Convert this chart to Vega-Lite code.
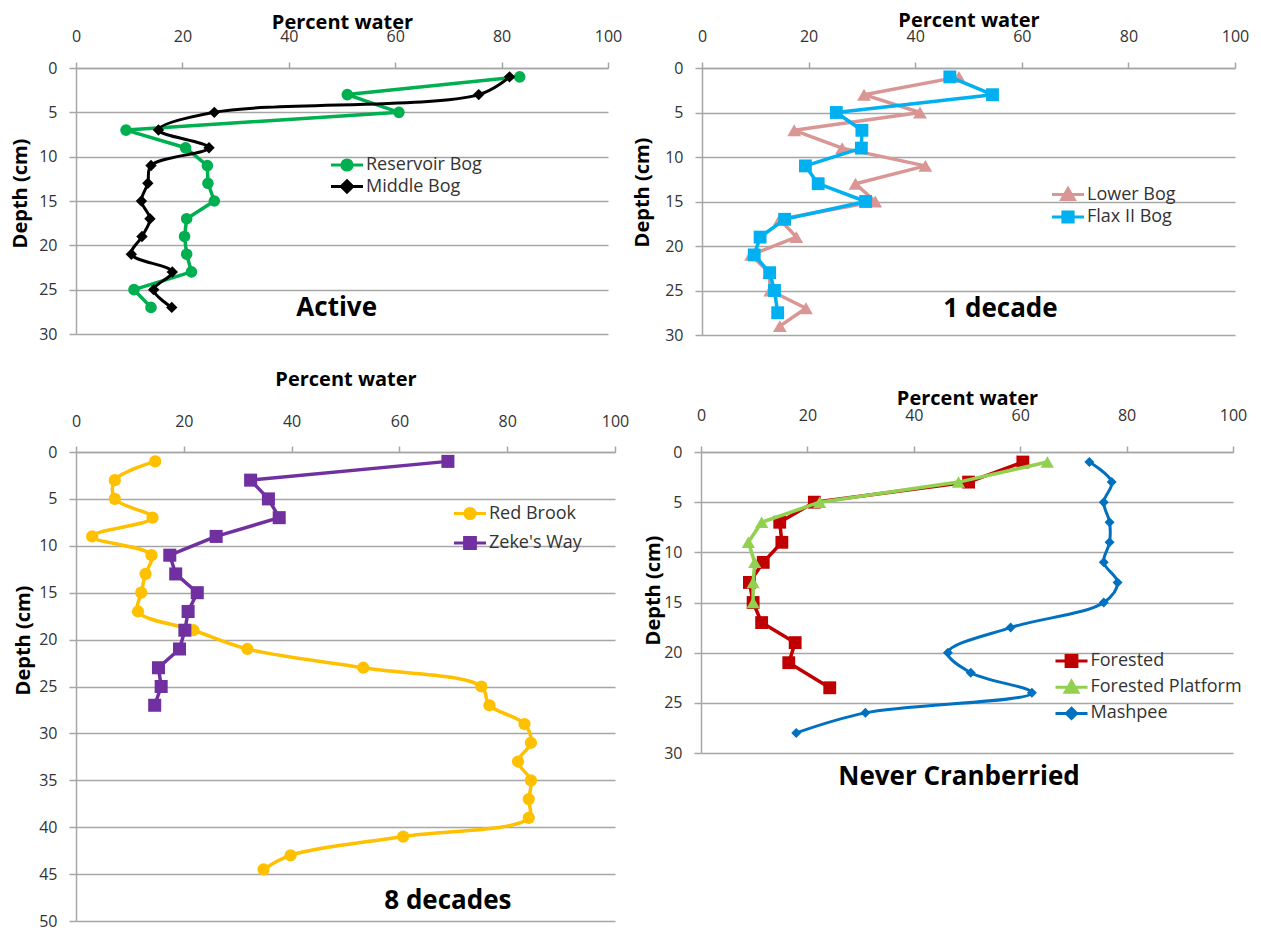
{
  "$schema": "https://vega.github.io/schema/vega-lite/v6.json",
  "background": "white",
  "padding": {"left": 10, "top": 10, "right": 10, "bottom": 10},
  "spacing": 26,
  "resolve": {"scale": {"color": "independent", "x": "independent", "y": "independent"}, "legend": {"color": "independent"}},
  "config": {
    "font": "Open Sans",
    "view": {"stroke": null},
    "axis": {
      "domainColor": "#A6A6A6", "domainWidth": 1.5,
      "tickColor": "#A6A6A6", "tickWidth": 1.5,
      "gridColor": "#A6A6A6", "gridWidth": 1.5, "gridOpacity": 1,
      "labelFont": "Open Sans", "labelFontSize": 16, "labelColor": "#333333",
      "titleFont": "Open Sans", "titleFontSize": 20, "titleFontWeight": "bold", "titleColor": "#000000",
      "labelOverlap": false, "labelFlush": false
    },
    "axisX": {"grid": false, "tickSize": 6, "titleBaseline": "middle"},
    "axisY": {"grid": true, "tickSize": 7, "labelPadding": 12, "titleBaseline": "middle", "titleAlign": "center", "titleAngle": -90},
    "legend": {
      "orient": "none", "padding": 0,
      "labelFont": "Open Sans", "labelFontSize": 18, "labelColor": "#333333",
      "symbolSize": 144, "symbolOffset": 10, "labelOffset": 10, "symbolStrokeWidth": 3
    },
    "text": {"font": "Open Sans"}
  },
  "datasets": {
    "active": [
      {"site": "Reservoir Bog", "depth": 1, "pct": 83.4},
      {"site": "Reservoir Bog", "depth": 3, "pct": 51.0},
      {"site": "Reservoir Bog", "depth": 5, "pct": 60.7},
      {"site": "Reservoir Bog", "depth": 7, "pct": 9.4},
      {"site": "Reservoir Bog", "depth": 9, "pct": 20.6},
      {"site": "Reservoir Bog", "depth": 11, "pct": 24.7},
      {"site": "Reservoir Bog", "depth": 13, "pct": 24.8},
      {"site": "Reservoir Bog", "depth": 15, "pct": 26.0},
      {"site": "Reservoir Bog", "depth": 17, "pct": 20.8},
      {"site": "Reservoir Bog", "depth": 19, "pct": 20.4},
      {"site": "Reservoir Bog", "depth": 21, "pct": 20.8},
      {"site": "Reservoir Bog", "depth": 23, "pct": 21.7},
      {"site": "Reservoir Bog", "depth": 25, "pct": 10.9},
      {"site": "Reservoir Bog", "depth": 27, "pct": 14.1},
      {"site": "Middle Bog", "depth": 1, "pct": 81.5},
      {"site": "Middle Bog", "depth": 3, "pct": 75.7},
      {"site": "Middle Bog", "depth": 5, "pct": 26.0},
      {"site": "Middle Bog", "depth": 7, "pct": 15.5},
      {"site": "Middle Bog", "depth": 9, "pct": 25.0},
      {"site": "Middle Bog", "depth": 11, "pct": 14.1},
      {"site": "Middle Bog", "depth": 13, "pct": 13.5},
      {"site": "Middle Bog", "depth": 15, "pct": 12.3},
      {"site": "Middle Bog", "depth": 17, "pct": 13.9},
      {"site": "Middle Bog", "depth": 19, "pct": 12.4},
      {"site": "Middle Bog", "depth": 21, "pct": 10.4},
      {"site": "Middle Bog", "depth": 23, "pct": 18.1},
      {"site": "Middle Bog", "depth": 25, "pct": 14.6},
      {"site": "Middle Bog", "depth": 27, "pct": 18.0}
    ],
    "decade1": [
      {"site": "Lower Bog", "depth": 1, "pct": 48.2},
      {"site": "Lower Bog", "depth": 3, "pct": 30.4},
      {"site": "Lower Bog", "depth": 5, "pct": 40.9},
      {"site": "Lower Bog", "depth": 7, "pct": 17.3},
      {"site": "Lower Bog", "depth": 9, "pct": 26.3},
      {"site": "Lower Bog", "depth": 11, "pct": 41.9},
      {"site": "Lower Bog", "depth": 13, "pct": 28.8},
      {"site": "Lower Bog", "depth": 15, "pct": 32.5},
      {"site": "Lower Bog", "depth": 17, "pct": 14.6},
      {"site": "Lower Bog", "depth": 19, "pct": 17.7},
      {"site": "Lower Bog", "depth": 21, "pct": 9.2},
      {"site": "Lower Bog", "depth": 23, "pct": 12.6},
      {"site": "Lower Bog", "depth": 25, "pct": 12.8},
      {"site": "Lower Bog", "depth": 27, "pct": 19.5},
      {"site": "Lower Bog", "depth": 29, "pct": 14.6},
      {"site": "Flax II Bog", "depth": 1, "pct": 46.5},
      {"site": "Flax II Bog", "depth": 3, "pct": 54.5},
      {"site": "Flax II Bog", "depth": 5, "pct": 25.2},
      {"site": "Flax II Bog", "depth": 7, "pct": 30.0},
      {"site": "Flax II Bog", "depth": 9, "pct": 29.9},
      {"site": "Flax II Bog", "depth": 11, "pct": 19.4},
      {"site": "Flax II Bog", "depth": 13, "pct": 21.8},
      {"site": "Flax II Bog", "depth": 15, "pct": 30.7},
      {"site": "Flax II Bog", "depth": 17, "pct": 15.5},
      {"site": "Flax II Bog", "depth": 19, "pct": 10.9},
      {"site": "Flax II Bog", "depth": 21, "pct": 9.8},
      {"site": "Flax II Bog", "depth": 23, "pct": 12.7},
      {"site": "Flax II Bog", "depth": 25, "pct": 13.6},
      {"site": "Flax II Bog", "depth": 27.5, "pct": 14.2}
    ],
    "decade8": [
      {"site": "Red Brook", "depth": 1, "pct": 14.7},
      {"site": "Red Brook", "depth": 3, "pct": 7.2},
      {"site": "Red Brook", "depth": 5, "pct": 7.2},
      {"site": "Red Brook", "depth": 7, "pct": 14.2},
      {"site": "Red Brook", "depth": 9, "pct": 3.0},
      {"site": "Red Brook", "depth": 11, "pct": 14.0},
      {"site": "Red Brook", "depth": 13, "pct": 12.9},
      {"site": "Red Brook", "depth": 15, "pct": 12.1},
      {"site": "Red Brook", "depth": 17, "pct": 11.5},
      {"site": "Red Brook", "depth": 19, "pct": 21.8},
      {"site": "Red Brook", "depth": 21, "pct": 31.8},
      {"site": "Red Brook", "depth": 23, "pct": 53.3},
      {"site": "Red Brook", "depth": 25, "pct": 75.2},
      {"site": "Red Brook", "depth": 27, "pct": 76.7},
      {"site": "Red Brook", "depth": 29, "pct": 83.2},
      {"site": "Red Brook", "depth": 31, "pct": 84.4},
      {"site": "Red Brook", "depth": 33, "pct": 82.0},
      {"site": "Red Brook", "depth": 35, "pct": 84.4},
      {"site": "Red Brook", "depth": 37, "pct": 84.0},
      {"site": "Red Brook", "depth": 39, "pct": 84.0},
      {"site": "Red Brook", "depth": 41, "pct": 60.7},
      {"site": "Red Brook", "depth": 43, "pct": 39.8},
      {"site": "Red Brook", "depth": 44.5, "pct": 34.8},
      {"site": "Zeke's Way", "depth": 1, "pct": 69.0},
      {"site": "Zeke's Way", "depth": 3, "pct": 32.4},
      {"site": "Zeke's Way", "depth": 5, "pct": 35.7},
      {"site": "Zeke's Way", "depth": 7, "pct": 37.7},
      {"site": "Zeke's Way", "depth": 9, "pct": 26.0},
      {"site": "Zeke's Way", "depth": 11, "pct": 17.4},
      {"site": "Zeke's Way", "depth": 13, "pct": 18.5},
      {"site": "Zeke's Way", "depth": 15, "pct": 22.5},
      {"site": "Zeke's Way", "depth": 17, "pct": 20.8},
      {"site": "Zeke's Way", "depth": 19, "pct": 20.2},
      {"site": "Zeke's Way", "depth": 21, "pct": 19.2},
      {"site": "Zeke's Way", "depth": 23, "pct": 15.3},
      {"site": "Zeke's Way", "depth": 25, "pct": 15.8},
      {"site": "Zeke's Way", "depth": 27, "pct": 14.6}
    ],
    "never": [
      {"site": "Forested", "depth": 1, "pct": 60.5},
      {"site": "Forested", "depth": 3, "pct": 50.3},
      {"site": "Forested", "depth": 5, "pct": 21.3},
      {"site": "Forested", "depth": 7, "pct": 14.8},
      {"site": "Forested", "depth": 9, "pct": 15.2},
      {"site": "Forested", "depth": 11, "pct": 11.7},
      {"site": "Forested", "depth": 13, "pct": 9.1},
      {"site": "Forested", "depth": 15, "pct": 9.8},
      {"site": "Forested", "depth": 17, "pct": 11.4},
      {"site": "Forested", "depth": 19, "pct": 17.7},
      {"site": "Forested", "depth": 21, "pct": 16.5},
      {"site": "Forested", "depth": 23.5, "pct": 24.2},
      {"site": "Forested Platform", "depth": 1, "pct": 65.1},
      {"site": "Forested Platform", "depth": 3, "pct": 48.4},
      {"site": "Forested Platform", "depth": 5, "pct": 22.3},
      {"site": "Forested Platform", "depth": 7, "pct": 11.4},
      {"site": "Forested Platform", "depth": 9, "pct": 8.9},
      {"site": "Forested Platform", "depth": 11, "pct": 10.1},
      {"site": "Forested Platform", "depth": 13, "pct": 9.8},
      {"site": "Forested Platform", "depth": 15, "pct": 9.8},
      {"site": "Mashpee", "depth": 1, "pct": 73.0},
      {"site": "Mashpee", "depth": 3, "pct": 77.2},
      {"site": "Mashpee", "depth": 5, "pct": 75.7},
      {"site": "Mashpee", "depth": 7, "pct": 76.8},
      {"site": "Mashpee", "depth": 9, "pct": 76.8},
      {"site": "Mashpee", "depth": 11, "pct": 75.7},
      {"site": "Mashpee", "depth": 13, "pct": 78.3},
      {"site": "Mashpee", "depth": 15, "pct": 75.7},
      {"site": "Mashpee", "depth": 17.5, "pct": 58.2},
      {"site": "Mashpee", "depth": 20, "pct": 46.4},
      {"site": "Mashpee", "depth": 22, "pct": 50.7},
      {"site": "Mashpee", "depth": 24, "pct": 62.2},
      {"site": "Mashpee", "depth": 26, "pct": 30.9},
      {"site": "Mashpee", "depth": 28, "pct": 17.9}
    ],
    "notes": [
      {"panel": "active", "label": "Active", "pct": 49.0, "depth": 27.1},
      {"panel": "decade1", "label": "1 decade", "pct": 56.0, "depth": 27.1},
      {"panel": "decade8", "label": "8 decades", "pct": 69.0, "depth": 47.9},
      {"panel": "never", "label": "Never Cranberried", "pct": 48.5, "depth": 32.4}
    ]
  },
  "vconcat": [
    {
      "resolve": {"scale": {"color": "independent", "x": "independent", "y": "independent"}, "legend": {"color": "independent"}},
      "hconcat": [
        {
          "width": 532, "height": 266,
          "encoding": {
            "x": {"field": "pct", "type": "quantitative", "scale": {"domain": [0, 100], "nice": false},
              "axis": {"orient": "top", "title": "Percent water", "values": [0, 20, 40, 60, 80, 100], "labelPadding": 18, "titleY": -46}},
            "y": {"field": "depth", "type": "quantitative", "scale": {"domain": [0, 30], "reverse": true, "nice": false},
              "axis": {"title": "Depth (cm)", "values": [0, 5, 10, 15, 20, 25, 30], "titleX": -56, "titleY": 125}}
          },
          "layer": [
            {
              "data": {"name": "active"},
              "encoding": {
                "color": {"field": "site", "type": "nominal",
                  "scale": {"domain": ["Reservoir Bog", "Middle Bog"], "range": ["#00B050", "#000000"]},
                  "legend": {"title": null, "legendX": 252, "legendY": 88, "rowPadding": -2.5,
                    "encode": {"symbols": {"update": {
                      "shape": {"signal": "datum.value === 'Reservoir Bog' ? 'M-2.67,0H2.67M-0.85,0A0.85,0.85,0,1,0,0.85,0A0.85,0.85,0,1,0,-0.85,0Z' : 'M-2.67,0H2.67M0,-0.95L0.95,0L0,0.95L-0.95,0Z'"},
                      "fill": {"signal": "datum.value === 'Reservoir Bog' ? '#00B050' : '#000000'"},
                      "stroke": {"signal": "datum.value === 'Reservoir Bog' ? '#00B050' : '#000000'"},
                      "strokeWidth": {"value": 3}, "opacity": {"value": 1}}}}}},
                "order": {"field": "depth", "type": "quantitative"}
              },
              "layer": [
                {"transform": [{"filter": "datum.site === 'Reservoir Bog'"}],
                  "mark": {"type": "line", "strokeWidth": 3.5, "strokeJoin": "round",
                    "point": {"filled": true, "shape": "circle", "size": 135, "opacity": 1}}},
                {"transform": [{"filter": "datum.site === 'Middle Bog'"}],
                  "mark": {"type": "line", "strokeWidth": 3, "interpolate": "catmull-rom",
                    "point": {"filled": true, "shape": "diamond", "size": 130, "opacity": 1}}}
              ]
            },
            {
              "data": {"name": "notes"},
              "transform": [{"filter": "datum.panel === 'active'"}],
              "mark": {"type": "text", "fontSize": 26, "fontWeight": "bold", "align": "center", "baseline": "middle", "color": "#000000"},
              "encoding": {"text": {"field": "label"}}
            }
          ]
        },
        {
          "width": 533, "height": 267,
          "encoding": {
            "x": {"field": "pct", "type": "quantitative", "scale": {"domain": [0, 100], "nice": false},
              "axis": {"orient": "top", "title": "Percent water", "values": [0, 20, 40, 60, 80, 100], "labelPadding": 18, "titleY": -48}},
            "y": {"field": "depth", "type": "quantitative", "scale": {"domain": [0, 30], "reverse": true, "nice": false},
              "axis": {"title": "Depth (cm)", "values": [0, 5, 10, 15, 20, 25, 30], "titleX": -59.5, "titleY": 124}}
          },
          "layer": [
            {
              "data": {"name": "decade1"},
              "encoding": {
                "color": {"field": "site", "type": "nominal",
                  "scale": {"domain": ["Lower Bog", "Flax II Bog"], "range": ["#D99694", "#00B0F0"]},
                  "legend": {"title": null, "legendX": 347, "legendY": 117.5, "rowPadding": -1.5,
                    "encode": {"symbols": {"update": {
                      "shape": {"signal": "datum.value === 'Lower Bog' ? 'M-2.67,0H2.67M0,-1L1.05,0.85H-1.05Z' : 'M-2.67,0H2.67M-0.85,-0.85H0.85V0.85H-0.85Z'"},
                      "fill": {"signal": "datum.value === 'Lower Bog' ? '#D99694' : '#00B0F0'"},
                      "stroke": {"signal": "datum.value === 'Lower Bog' ? '#D99694' : '#00B0F0'"},
                      "strokeWidth": {"value": 3}, "opacity": {"value": 1}}}}}},
                "order": {"field": "depth", "type": "quantitative"}
              },
              "layer": [
                {"transform": [{"filter": "datum.site === 'Lower Bog'"}],
                  "mark": {"type": "line", "strokeWidth": 3.5, "strokeJoin": "round",
                    "point": {"filled": true, "shape": "triangle-up", "size": 190, "opacity": 1}}},
                {"transform": [{"filter": "datum.site === 'Flax II Bog'"}],
                  "mark": {"type": "line", "strokeWidth": 3.5, "strokeJoin": "round",
                    "point": {"filled": true, "shape": "square", "size": 165, "opacity": 1}}}
              ]
            },
            {
              "data": {"name": "notes"},
              "transform": [{"filter": "datum.panel === 'decade1'"}],
              "mark": {"type": "text", "fontSize": 26, "fontWeight": "bold", "align": "center", "baseline": "middle", "color": "#000000"},
              "encoding": {"text": {"field": "label"}}
            }
          ]
        }
      ],
      "spacing": 94,
      "bounds": "flush"
    },
    {
      "resolve": {"scale": {"color": "independent", "x": "independent", "y": "independent"}, "legend": {"color": "independent"}},
      "hconcat": [
        {
          "width": 539, "height": 469,
          "encoding": {
            "x": {"field": "pct", "type": "quantitative", "scale": {"domain": [0, 100], "nice": false},
              "axis": {"orient": "top", "title": "Percent water", "values": [0, 20, 40, 60, 80, 100], "labelPadding": 17, "titleY": -73}},
            "y": {"field": "depth", "type": "quantitative", "scale": {"domain": [0, 50], "reverse": true, "nice": false},
              "axis": {"title": "Depth (cm)", "values": [0, 5, 10, 15, 20, 25, 30, 35, 40, 45, 50], "titleX": -53, "titleY": 188}}
          },
          "layer": [
            {
              "data": {"name": "decade8"},
              "encoding": {
                "color": {"field": "site", "type": "nominal",
                  "scale": {"domain": ["Red Brook", "Zeke's Way"], "range": ["#FFC000", "#7030A0"]},
                  "legend": {"title": null, "legendX": 375, "legendY": 52.5, "rowPadding": 5.5,
                    "encode": {"symbols": {"update": {
                      "shape": {"signal": "datum.value === 'Red Brook' ? 'M-2.67,0H2.67M-0.85,0A0.85,0.85,0,1,0,0.85,0A0.85,0.85,0,1,0,-0.85,0Z' : 'M-2.67,0H2.67M-0.9,-0.9H0.9V0.9H-0.9Z'"},
                      "fill": {"signal": "datum.value === 'Red Brook' ? '#FFC000' : '#7030A0'"},
                      "stroke": {"signal": "datum.value === 'Red Brook' ? '#FFC000' : '#7030A0'"},
                      "strokeWidth": {"value": 3}, "opacity": {"value": 1}}}}}},
                "order": {"field": "depth", "type": "quantitative"}
              },
              "layer": [
                {"transform": [{"filter": "datum.site === 'Red Brook'"}],
                  "mark": {"type": "line", "strokeWidth": 3.5, "interpolate": "catmull-rom",
                    "point": {"filled": true, "shape": "circle", "size": 150, "opacity": 1}}},
                {"transform": [{"filter": "datum.site !== 'Red Brook'"}],
                  "mark": {"type": "line", "strokeWidth": 3.5, "strokeJoin": "round",
                    "point": {"filled": true, "shape": "square", "size": 170, "opacity": 1}}}
              ]
            },
            {
              "data": {"name": "notes"},
              "transform": [{"filter": "datum.panel === 'decade8'"}],
              "mark": {"type": "text", "fontSize": 26, "fontWeight": "bold", "align": "center", "baseline": "middle", "color": "#000000"},
              "encoding": {"text": {"field": "label"}}
            }
          ]
        },
        {
          "width": 532, "height": 301,
          "encoding": {
            "x": {"field": "pct", "type": "quantitative", "scale": {"domain": [0, 100], "nice": false},
              "axis": {"orient": "top", "title": "Percent water", "values": [0, 20, 40, 60, 80, 100], "labelPadding": 23, "titleY": -54}},
            "y": {"field": "depth", "type": "quantitative", "scale": {"domain": [0, 30], "reverse": true, "nice": false},
              "axis": {"title": "Depth (cm)", "values": [0, 5, 10, 15, 20, 25, 30], "titleX": -48, "titleY": 138}}
          },
          "layer": [
            {
              "data": {"name": "never"},
              "encoding": {
                "color": {"field": "site", "type": "nominal",
                  "scale": {"domain": ["Forested", "Forested Platform", "Mashpee"], "range": ["#C00000", "#92D050", "#0070C0"]},
                  "legend": {"title": null, "legendX": 351.5, "legendY": 200, "rowPadding": 2.2,
                    "encode": {"symbols": {"update": {
                      "shape": {"signal": "datum.value === 'Forested' ? 'M-2.67,0H2.67M-0.9,-0.9H0.9V0.9H-0.9Z' : datum.value === 'Forested Platform' ? 'M-2.67,0H2.67M0,-1L1.05,0.85H-1.05Z' : 'M-2.67,0H2.67M0,-0.85L0.85,0L0,0.85L-0.85,0Z'"},
                      "fill": {"signal": "datum.value === 'Forested' ? '#C00000' : datum.value === 'Forested Platform' ? '#92D050' : '#0070C0'"},
                      "stroke": {"signal": "datum.value === 'Forested' ? '#C00000' : datum.value === 'Forested Platform' ? '#92D050' : '#0070C0'"},
                      "strokeWidth": {"value": 3}, "opacity": {"value": 1}}}}}},
                "order": {"field": "depth", "type": "quantitative"}
              },
              "layer": [
                {"transform": [{"filter": "datum.site === 'Forested'"}],
                  "mark": {"type": "line", "strokeWidth": 3.5, "strokeJoin": "round",
                    "point": {"filled": true, "shape": "square", "size": 165, "opacity": 1}}},
                {"transform": [{"filter": "datum.site === 'Forested Platform'"}],
                  "mark": {"type": "line", "strokeWidth": 3.5, "strokeJoin": "round",
                    "point": {"filled": true, "shape": "triangle-up", "size": 175, "opacity": 1}}},
                {"transform": [{"filter": "datum.site === 'Mashpee'"}],
                  "mark": {"type": "line", "strokeWidth": 3, "interpolate": "catmull-rom",
                    "point": {"filled": true, "shape": "diamond", "size": 100, "opacity": 1}}}
              ]
            },
            {
              "data": {"name": "notes"},
              "transform": [{"filter": "datum.panel === 'never'"}],
              "mark": {"type": "text", "fontSize": 26, "fontWeight": "bold", "align": "center", "baseline": "middle", "color": "#000000"},
              "encoding": {"text": {"field": "label"}}
            }
          ]
        }
      ],
      "spacing": 86,
      "bounds": "flush"
    }
  ]
}
